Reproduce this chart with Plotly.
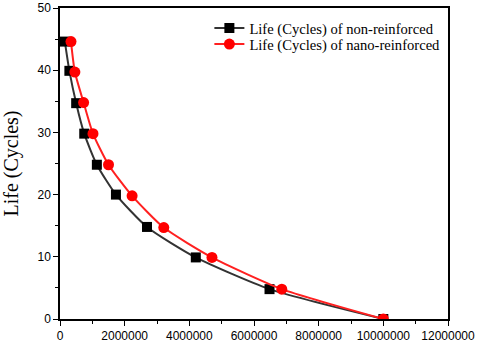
import plotly.graph_objects as go

# ========== data ==========
cycles_non = [150000, 290000, 500000, 750000, 1140000, 1730000, 2690000, 4200000, 6480000, 10000000]
life_non = [44.6, 39.9, 34.7, 29.8, 24.8, 20.0, 14.8, 9.9, 4.8, 0]

cycles_nano = [340000, 460000, 730000, 1020000, 1500000, 2230000, 3210000, 4700000, 6860000, 10000000]
life_nano = [44.6, 39.7, 34.8, 29.8, 24.8, 19.8, 14.7, 9.9, 4.8, 0]

x_ticks = [0, 2000000, 4000000, 6000000, 8000000, 10000000, 12000000]
y_ticks = [0, 10, 20, 30, 40, 50]

fig = go.Figure()
fig.add_trace(go.Scatter(
    x=cycles_non, y=life_non, mode="lines+markers",
    name="Life (Cycles) of non-reinforced", legend="legend", showlegend=True,
    line=dict(color="#333333", width=2, shape="spline", smoothing=0.6),
    marker=dict(symbol="square", size=10, color="black"),
))
fig.add_trace(go.Scatter(
    x=cycles_nano, y=life_nano, mode="lines+markers",
    name="Life (Cycles) of nano-reinforced", legend="legend2", showlegend=True,
    line=dict(color="#ff2020", width=2, shape="spline", smoothing=0.6),
    marker=dict(symbol="circle", size=11, color="#ff0000"),
))

axis_common = dict(
    showgrid=False, zeroline=False, showline=True, linecolor="black", linewidth=1.5,
    mirror=True, ticks="outside", ticklen=5, tickwidth=1, tickcolor="black",
    tickfont=dict(family="Liberation Sans, Arial", size=12, color="black"),
    automargin=False,
)

fig.update_xaxes(
    range=[0, 12000000], tickvals=x_ticks, ticktext=[str(v) for v in x_ticks],
    minor=dict(ticks="outside", ticklen=3, dtick=1000000, tickcolor="black"),
    **axis_common,
)
fig.update_yaxes(
    range=[0, 50], tickvals=y_ticks,
    minor=dict(ticks="outside", ticklen=3, dtick=5, tickcolor="black"),
    title=dict(text="Life (Cycles)", font=dict(family="Liberation Serif, Times New Roman", size=20, color="black"),
               standoff=26),
    **axis_common,
)

legend_style = dict(
    xanchor="left", yanchor="middle",
    bgcolor="rgba(0,0,0,0)", borderwidth=0,
    font=dict(family="Liberation Serif, Times New Roman", size=14.6, color="black"),
    itemwidth=30,
)

fig.update_layout(
    width=480, height=345,
    margin=dict(l=60, r=32, t=8, b=26),
    plot_bgcolor="white", paper_bgcolor="white",
    showlegend=True,
    legend=dict(x=0.385, y=0.936, **legend_style),
    legend2=dict(x=0.385, y=0.884, **legend_style),
)

# drop the browser's default 8px body margin so the figure fills the window
fig.write_html("out.html", config={"displayModeBar": False},
               post_script="document.body.style.margin='0';")
